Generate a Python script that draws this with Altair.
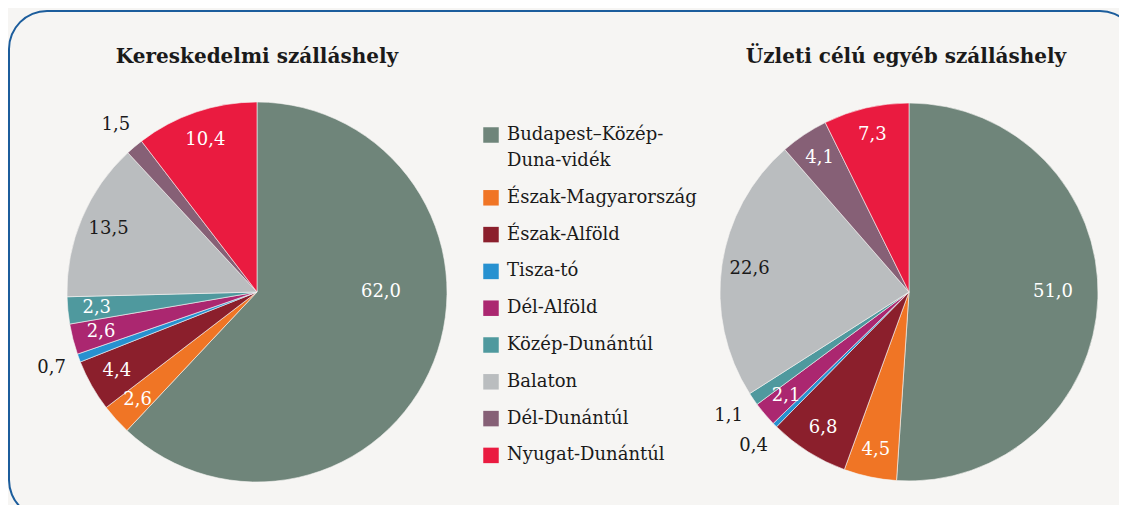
import math
import altair as alt
import pandas as pd

regions = ["Budapest–Közép-Duna-vidék", "Észak-Magyarország", "Észak-Alföld", "Tisza-tó",
           "Dél-Alföld", "Közép-Dunántúl", "Balaton", "Dél-Dunántúl", "Nyugat-Dunántúl"]
colors = ["#6f857a", "#f07525", "#8b1f2c", "#2791d0", "#ab2770", "#4f999e", "#babdbf", "#866076", "#ea1b40"]
kereskedelmi = [62.0, 2.6, 4.4, 0.7, 2.6, 2.3, 13.5, 1.5, 10.4]
uzleti = [51.0, 4.5, 6.8, 0.4, 2.1, 1.1, 22.6, 4.1, 7.3]
titles = ["Kereskedelmi szálláshely", "Üzleti célú egyéb szálláshely"]

FONT = "DejaVu Serif"
BG = "#f6f5f3"
INK = "#1a1a1a"
FRAME = "#1c5d9c"

rows = []
for key, vals in (("A", kereskedelmi), ("B", uzleti)):
    for i, (r, v) in enumerate(zip(regions, vals)):
        rows.append({"pie": key, "region": r, "value": v, "idx": i})
df = pd.DataFrame(rows)

legend = alt.Legend(
    title=None, orient="none", legendX=474, legendY=118,
    symbolType="square", symbolSize=240, symbolStrokeWidth=0,
    labelFont=FONT, labelFontSize=18, labelColor=INK, labelOffset=7,
    labelLimit=300, rowPadding=18.8,
    labelExpr="datum.label == 'Budapest–Közép-Duna-vidék' ? ['Budapest–Közép-', 'Duna-vidék'] : datum.label",
)

theta_scale = alt.Scale(domain=[0, 1])


def pie(key, cx, cy, r, big_r):
    base = (
        alt.Chart(df)
        .transform_filter(alt.datum.pie == key)
        .transform_joinaggregate(total="sum(value)")
        .transform_window(cum="sum(value)", sort=[alt.SortField("idx")], frame=[None, 0])
        .transform_calculate(
            f0="(datum.cum - datum.value) / datum.total",
            f1="datum.cum / datum.total",
            fm="(datum.cum - datum.value / 2) / datum.total",
        )
    )
    arc = base.mark_arc(outerRadius=r, stroke=BG, strokeWidth=0.6).encode(
        theta=alt.Theta("f0:Q", scale=theta_scale, stack=False),
        theta2="f1:Q",
        color=alt.Color("region:N", scale=alt.Scale(domain=regions, range=colors), sort=regions, legend=legend),
        x=alt.value(cx), y=alt.value(cy),
    )
    txt = base.transform_calculate(
        lbl="replace(format(datum.value, '.1f'), '.', ',')",
        lr=f"datum.value < 2 ? 219 : (datum.value > 40 ? {big_r} : 161)",
        la="datum.value > 40 ? min(datum.fm, 0.25) : datum.fm",
        tc=f"(datum.value < 2 || datum.region == 'Balaton') ? '{INK}' : '#ffffff'",
    ).mark_text(font=FONT, fontSize=18).encode(
        theta=alt.Theta("la:Q", scale=theta_scale, stack=False),
        radius=alt.Radius("lr:Q", scale=None),
        fill=alt.Fill("tc:N", scale=None, legend=None),
        text="lbl:N",
        x=alt.value(cx), y=alt.value(cy),
    )
    return alt.layer(arc, txt)


one = pd.DataFrame({"a": [0]})
top_edge = alt.Chart(one).mark_rule(color=FRAME, strokeWidth=2).encode(
    x=alt.value(39), x2=alt.value(1092), y=alt.value(3))
left_edge = alt.Chart(one).mark_rule(color=FRAME, strokeWidth=2).encode(
    x=alt.value(1), y=alt.value(41), y2=alt.value(472))
corner_tl = alt.Chart(one).mark_arc(
    outerRadius=39, innerRadius=37, theta=1.5 * math.pi, theta2=2 * math.pi, color=FRAME
).encode(x=alt.value(39), y=alt.value(41))
corner_tr = alt.Chart(one).mark_arc(
    outerRadius=39, innerRadius=37, theta=0, theta2=0.5 * math.pi, color=FRAME
).encode(x=alt.value(1092), y=alt.value(41))
corner_bl = alt.Chart(one).mark_arc(
    outerRadius=39, innerRadius=37, theta=math.pi, theta2=1.5 * math.pi, color=FRAME
).encode(x=alt.value(39), y=alt.value(472))

t1 = alt.Chart(pd.DataFrame({"t": [titles[0]]})).mark_text(
    font=FONT, fontSize=20, fontWeight="bold", color=INK, baseline="alphabetic"
).encode(x=alt.value(249), y=alt.value(55), text="t:N")
t2 = alt.Chart(pd.DataFrame({"t": [titles[1]]})).mark_text(
    font=FONT, fontSize=20, fontWeight="bold", color=INK, baseline="alphabetic"
).encode(x=alt.value(898), y=alt.value(55), text="t:N")

chart = alt.layer(
    top_edge, left_edge, corner_tl, corner_tr, corner_bl, t1, t2,
    pie("A", 249, 284, 190, 124), pie("B", 901, 284, 189, 144)
).resolve_scale(theta="independent").properties(
    width=1111, height=497, background=BG, padding=0,
    autosize=alt.AutoSizeParams(type="none"),
).configure(
    style={"guide-label": {"lineHeight": 26}}
).configure_view(strokeWidth=0)

chart.save("out.html", embed_options={"renderer": "svg", "actions": False})
